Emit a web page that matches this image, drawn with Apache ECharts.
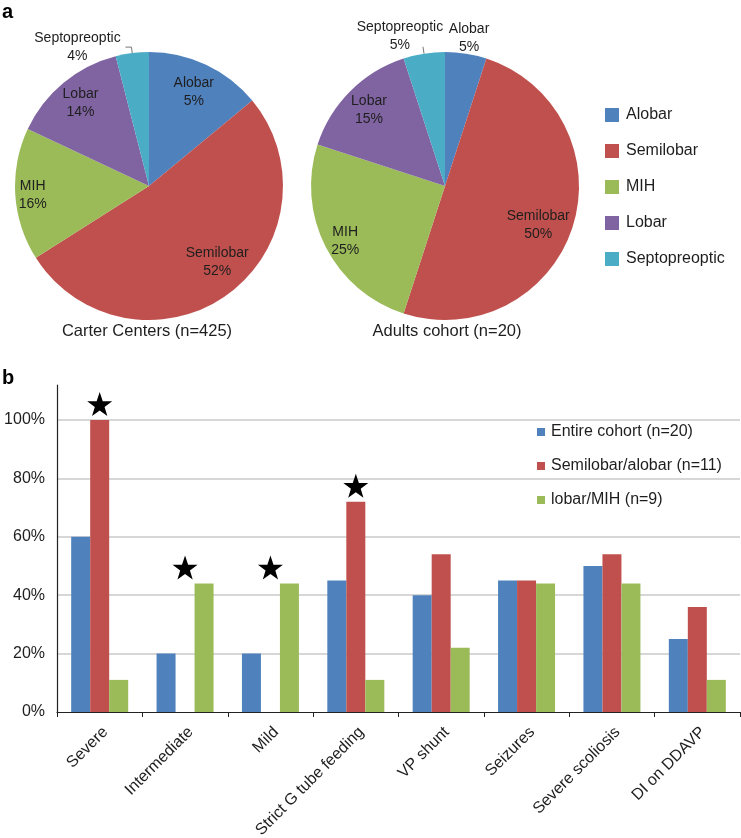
<!DOCTYPE html>
<html><head><meta charset="utf-8">
<script src="https://cdn.jsdelivr.net/npm/echarts@6/dist/echarts.min.js"></script>
<style>html,body{margin:0;padding:0;background:#fff}#c{width:741px;height:838px}</style>
</head><body><div id="c"></div>
<script>
// ---------- DATA ----------
const pieCategories = ['Alobar', 'Semilobar', 'MIH', 'Lobar', 'Septopreoptic'];
const carterValues = [14, 52, 16, 14, 4];          // slice sizes as drawn
const carterLabels = ['5%', '52%', '16%', '14%', '4%']; // percentages as printed
const adultsValues = [5, 50, 25, 15, 5];
const adultsLabels = ['5%', '50%', '25%', '15%', '5%'];
const pieTitles = ['Carter Centers (n=425)', 'Adults cohort (n=20)'];

const barCategories = ['Severe', 'Intermediate', 'Mild', 'Strict G tube feeding', 'VP shunt', 'Seizures', 'Severe scoliosis', 'DI on DDAVP'];
const barSeriesNames = ['Entire cohort (n=20)', 'Semilobar/alobar (n=11)', 'lobar/MIH (n=9)'];
const entireCohort = [60, 20, 20, 45, 40, 45, 50, 25];
const semilobarAlobar = [100, 0, 0, 72, 54, 45, 54, 36];
const lobarMIH = [11, 44, 44, 11, 22, 44, 44, 11];
const starredCategories = ['Severe', 'Intermediate', 'Mild', 'Strict G tube feeding'];

// ---------- STYLE ----------
const FONT = '"Liberation Sans", Arial, Helvetica, sans-serif';
const TXT = '#1e1e1e';
const pieColors = ['#4F81BD', '#C0504D', '#9BBB59', '#8064A2', '#4BACC6'];
const barColors = ['#4F81BD', '#C0504D', '#9BBB59'];
const STAR = 'path://M50,0 L61.8,35.1 L98.1,35.1 L68.8,56.7 L79.4,91 L50,70 L20.6,91 L31.2,56.7 L1.9,35.1 L38.2,35.1 Z';
const SQUARE = 'path://M0,0H10V10H0Z';

const R = 134;
const pieCenters = [[149, 186], [445, 186]];
// which slices get an outside label, per pie
const outsideSlices = [['Septopreoptic'], ['Septopreoptic', 'Alobar']];
// label fine tuning (dx, dy)
const insideOffsets = [
  { Alobar: [-1, 3], Semilobar: [5, -11], MIH: [-9, 2] },
  { MIH: [-4, 6], Semilobar: [-9, 6] }
];
const outsideOffsets = [
  {},
  { Septopreoptic: [25, -11], Alobar: [-26, -9] }
];

function makePies(k, values, labels) {
  const outs = outsideSlices[k];
  const main = {
    type: 'pie', center: pieCenters[k], radius: [0, R], startAngle: 90, clockwise: true,
    avoidLabelOverlap: false, animation: false,
    itemStyle: { borderWidth: 0 },
    emphasis: { disabled: true },
    data: pieCategories.map((n, i) => {
      const isOut = outs.indexOf(n) >= 0;
      const item = { name: n, value: values[i], itemStyle: { color: pieColors[i] } };
      if (isOut) {
        item.label = {
          show: true, position: 'outside', distanceToLabelLine: 3,
          formatter: p => '{t|' + p.name + '}\n{t|' + labels[p.dataIndex] + '}',
          rich: { t: { width: n === 'Septopreoptic' ? 90 : 50, align: 'center', fontSize: 14, lineHeight: 18, color: TXT, fontFamily: FONT } }
        };
        item.labelLine = (n === 'Alobar') ? { show: false, length: 7, length2: 0 }
          : { show: true, length: k === 0 ? 6 : 7, length2: k === 0 ? 6 : 0, lineStyle: { color: '#777', width: 1 } };
      } else {
        item.label = { show: false };
        item.labelLine = { show: false };
      }
      return item;
    }),
    labelLayout: function (p) {
      const o = outsideOffsets[k][pieCategories[p.dataIndex]];
      return o ? { dx: o[0], dy: o[1] } : {};
    }
  };
  const overlay = {
    type: 'pie', center: pieCenters[k], radius: [R * 0.56, R], startAngle: 90, clockwise: true,
    silent: true, animation: false, avoidLabelOverlap: false,
    itemStyle: { color: 'rgba(0,0,0,0)', borderWidth: 0 },
    label: {
      show: true, position: 'inside', color: TXT, fontSize: 14, lineHeight: 18, fontFamily: FONT,
      formatter: p => p.name + '\n' + labels[p.dataIndex]
    },
    labelLine: { show: false },
    data: pieCategories.map((n, i) => ({
      name: n, value: values[i],
      label: { show: outs.indexOf(n) < 0 }
    })),
    labelLayout: function (p) {
      const o = insideOffsets[k][pieCategories[p.dataIndex]];
      return o ? { dx: o[0], dy: o[1] } : {};
    }
  };
  return [main, overlay];
}

const barData = [entireCohort, semilobarAlobar, lobarMIH];
const starPoints = starredCategories.map(c => {
  const i = barCategories.indexOf(c);
  return { coord: [i, Math.max(entireCohort[i], semilobarAlobar[i], lobarMIH[i])] };
});

const barSeries = barSeriesNames.map((name, s) => {
  const ser = {
    type: 'bar', name: name, data: barData[s], barWidth: 19, barGap: '0%',
    itemStyle: { color: barColors[s] }, animation: false, emphasis: { disabled: true }
  };
  if (s === 1) {
    ser.markPoint = {
      symbol: STAR, symbolSize: [25, 24], symbolOffset: [0, -16], symbolKeepAspect: false,
      itemStyle: { color: '#000' }, label: { show: false }, animation: false,
      data: starPoints
    };
  }
  return ser;
});

const option = {
  backgroundColor: '#fff',
  textStyle: { fontFamily: FONT },
  title: [
    { text: 'a', left: 2, top: 2, padding: 0, textStyle: { fontSize: 20, fontWeight: 'bold', color: '#000', fontFamily: FONT } },
    { text: 'b', left: 2, top: 368, padding: 0, textStyle: { fontSize: 20, fontWeight: 'bold', color: '#000', fontFamily: FONT } },
    { text: pieTitles[0], left: 147, top: 323, padding: 0, textAlign: 'center', textStyle: { fontSize: 16.5, fontWeight: 'normal', color: TXT, fontFamily: FONT } },
    { text: pieTitles[1], left: 447, top: 323, padding: 0, textAlign: 'center', textStyle: { fontSize: 16.5, fontWeight: 'normal', color: TXT, fontFamily: FONT } }
  ],
  legend: [
    {
      data: pieCategories, orient: 'vertical', left: 605, top: 107, padding: 0,
      icon: SQUARE, itemWidth: 18, itemHeight: 14, itemGap: 20,
      textStyle: { fontSize: 16, color: TXT, fontFamily: FONT, lineHeight: 16 },
      selectedMode: false
    },
    {
      data: barSeriesNames, orient: 'vertical', left: 537, top: 424, padding: 0,
      icon: SQUARE, itemWidth: 10, itemHeight: 8, itemGap: 18,
      textStyle: { fontSize: 16, color: TXT, fontFamily: FONT, lineHeight: 16 },
      selectedMode: false
    }
  ],
  grid: { left: 57, right: 1, top: 385, bottom: 126, containLabel: false, outerBoundsMode: 'none' },
  xAxis: {
    type: 'category', data: barCategories,
    axisLine: { lineStyle: { color: '#222', width: 1.2 } },
    axisTick: { show: true, length: 5, lineStyle: { color: '#222' } },
    axisLabel: { rotate: 45, margin: 12, fontSize: 16, color: TXT, fontFamily: FONT, interval: 0, verticalAlign: 'top' },
    splitLine: { show: false }
  },
  yAxis: {
    type: 'value', min: 0, max: 112, interval: 20,
    axisLine: { show: true, lineStyle: { color: '#222', width: 1.2 } },
    axisTick: { show: false },
    axisLabel: { formatter: '{value}%', fontSize: 16, color: TXT, fontFamily: FONT, margin: 12, showMaxLabel: false },
    splitLine: { show: true, showMinLine: false, showMaxLine: false, lineStyle: { color: '#cacaca', width: 1.5 } }
  },
  series: [].concat(makePies(0, carterValues, carterLabels), makePies(1, adultsValues, adultsLabels), barSeries)
};

const chart = echarts.init(document.getElementById('c'), null, { renderer: 'canvas' });
chart.setOption(option);
</script>
</body></html>
